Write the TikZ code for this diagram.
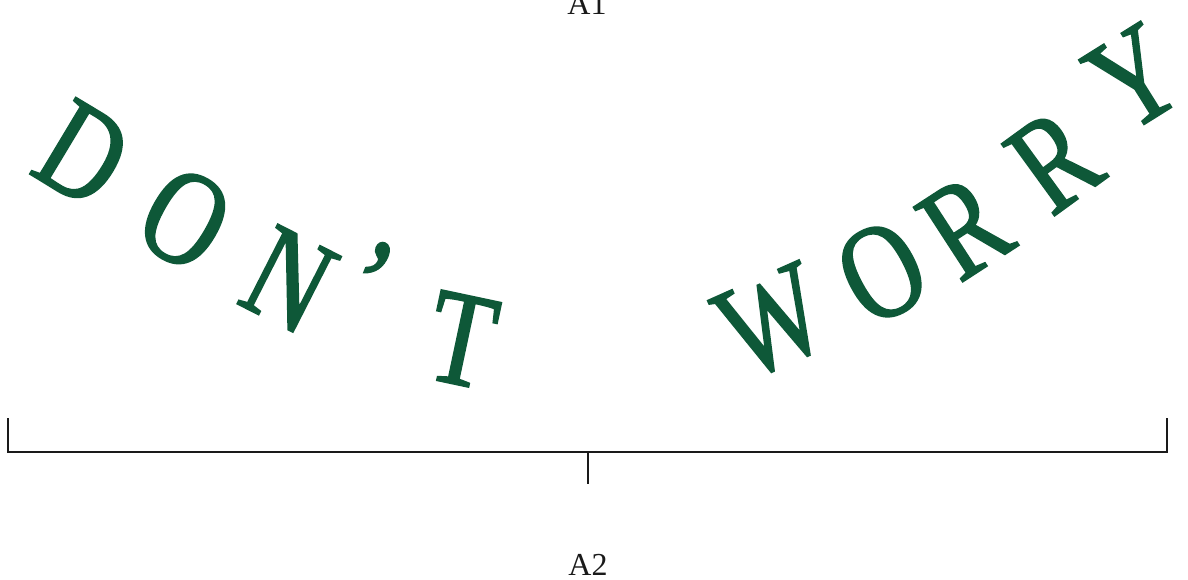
\documentclass[tikz,border=0pt]{standalone}
\usepackage{fontspec}
\setmainfont{Liberation Serif}
\newfontfamily\handfont[FakeBold=1.4,FakeStretch=0.78]{Liberation Serif}
\definecolor{ink}{RGB}{14,88,56}
\definecolor{rule}{RGB}{26,26,26}
\begin{document}
\begin{tikzpicture}[x=1pt,y=-1pt,
  letter/.style={text=ink, font=\fontsize{136}{136}\selectfont\handfont, inner sep=0pt, anchor=center},
  tag/.style={font=\fontsize{32}{32}\selectfont, text=rule, inner sep=0pt, anchor=base},
  bracketline/.style={draw=rule, line width=2.8pt}]
\useasboundingbox (0,0) rectangle (1188,580);
% A1 / A2 labels
\node[tag] (a1) at (587,15) {A1};
\node[tag] (a2) at (588,575) {A2};
% curved text, letter by letter
\node[letter, rotate=-31] (d)  at (83,154)  {D};
\node[letter, rotate=-30] (o1) at (185,219) {O};
\node[letter, rotate=-27] (n)  at (289,280) {N};
\node[letter, rotate=-22, anchor=north] (ap) at (385,243) {’};
\node[letter, rotate=-12] (t)  at (462,340) {T};
\node[letter, rotate=24]  (w)  at (772,322) {W};
\node[letter, rotate=28]  (o2) at (882,272) {O};
\node[letter, rotate=33]  (r1) at (965,227) {R};
\node[letter, rotate=36]  (r2) at (1054,161) {R};
\node[letter, rotate=32]  (y)  at (1134,78) {Y};
% bracket
\coordinate (bl) at (8,418);
\coordinate (blc) at (8,452);
\coordinate (brc) at (1167,452);
\coordinate (br) at (1167,418);
\coordinate (bm) at (588,452);
\coordinate (bmt) at (588,484);
\draw[bracketline] (bl) -- (blc) -- (brc) -- (br);
\draw[bracketline] (bm) -- (bmt);
\end{tikzpicture}
\end{document}
